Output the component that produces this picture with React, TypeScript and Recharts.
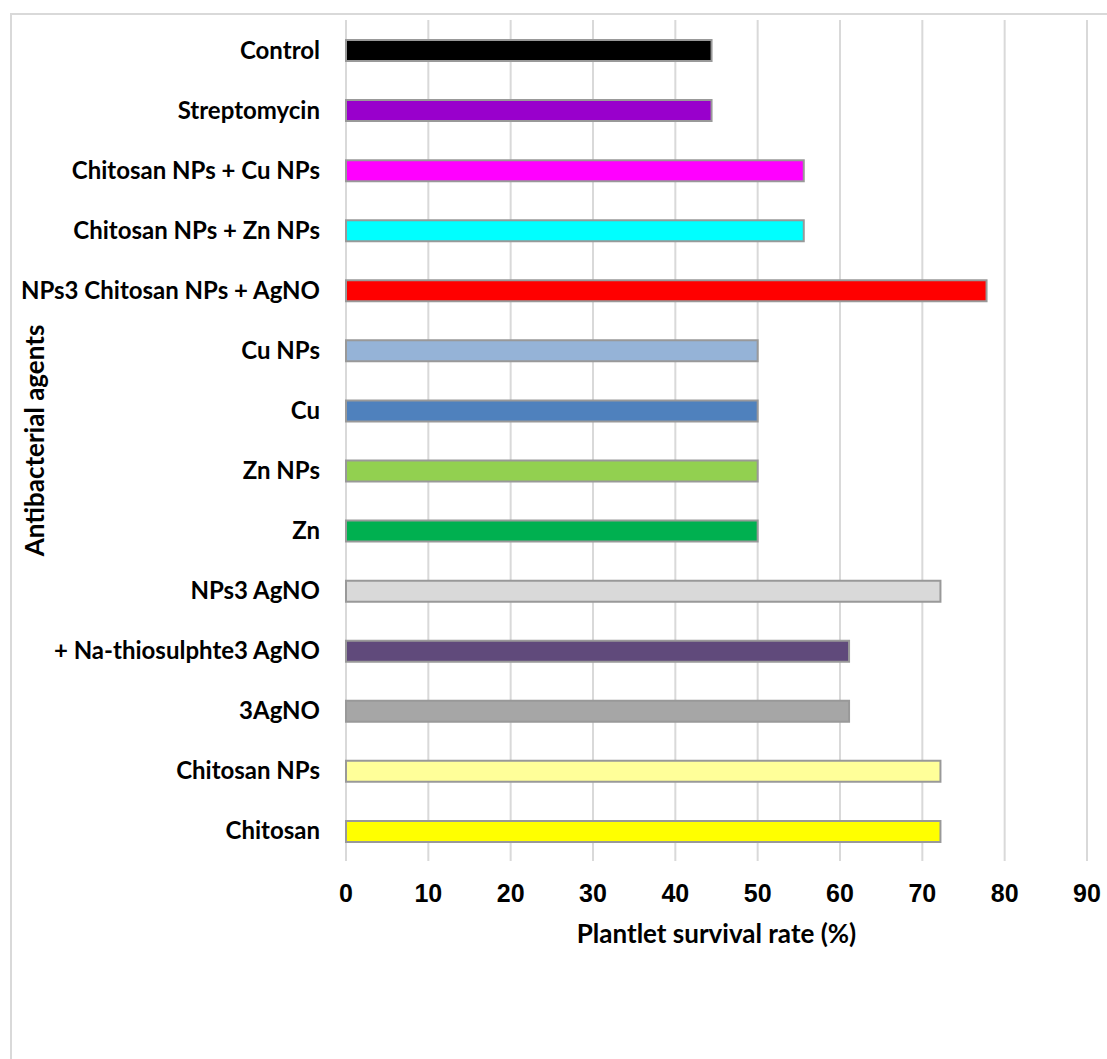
import { Bar, BarChart, CartesianGrid, Cell, Label, XAxis, YAxis } from 'recharts';

// Antibacterial treatments, listed top to bottom
const agents = [
  'Control',
  'Streptomycin',
  'Chitosan NPs + Cu NPs',
  'Chitosan NPs + Zn NPs',
  'NPs3 Chitosan NPs + AgNO',
  'Cu NPs',
  'Cu',
  'Zn NPs',
  'Zn',
  'NPs3 AgNO',
  '+ Na-thiosulphte3 AgNO',
  '3AgNO',
  'Chitosan NPs',
  'Chitosan',
];

// Plantlet survival rate (%)
const survival = [44.4, 44.4, 55.6, 55.6, 77.8, 50, 50, 50, 50, 72.2, 61.1, 61.1, 72.2, 72.2];

const barColors = [
  '#000000',
  '#9900CC',
  '#FF00FF',
  '#00FFFF',
  '#FF0000',
  '#95B3D7',
  '#4F81BD',
  '#92D050',
  '#00B050',
  '#D9D9D9',
  '#604A7B',
  '#A6A6A6',
  '#FFFF99',
  '#FFFF00',
];

const xTicks = [0, 10, 20, 30, 40, 50, 60, 70, 80, 90];

const data = agents.map((name, i) => ({ name, survival: survival[i] }));

const labelFont = 'Lato, "Open Sans", sans-serif';
const numberFont = '"Liberation Sans", Arial, sans-serif';

function YTitle({ viewBox }: any) {
  const x = viewBox.x + 24;
  const y = viewBox.y + viewBox.height / 2;
  return (
    <text
      x={x}
      y={y}
      transform={`rotate(-90 ${x} ${y})`}
      textAnchor="middle"
      dominantBaseline="central"
      fontFamily={labelFont}
      fontWeight={700}
      fontSize={26}
      fill="#000"
    >
      Antibacterial agents
    </text>
  );
}

export default function App() {
  return (
    <div
      style={{
        position: 'absolute',
        left: 0,
        top: 0,
        width: 1107,
        height: 1059,
        background: '#fff',
        overflow: 'hidden',
      }}
    >
      <div
        style={{
          position: 'absolute',
          left: 10,
          top: 13,
          right: 0,
          bottom: 0,
          borderTop: '2px solid #d9d9d9',
          borderLeft: '2px solid #d9d9d9',
        }}
      />
      <div style={{ position: 'absolute', left: 0, top: 0 }}>
        <BarChart
          width={1107}
          height={1059}
          data={data}
          layout="vertical"
          margin={{ top: 20, right: 20, left: 10, bottom: 108 }}
          barSize={21}
        >
          <CartesianGrid horizontal={false} stroke="#d9d9d9" strokeWidth={2} />
          <XAxis
            type="number"
            domain={[0, 90]}
            ticks={xTicks}
            interval={0}
            axisLine={false}
            tickLine={false}
            tickSize={0}
            tickMargin={23}
            height={90}
            tick={{ fill: '#000', fontSize: 25, fontWeight: 700, fontFamily: numberFont }}
          >
            <Label
              value="Plantlet survival rate (%)"
              position="insideBottom"
              offset={8}
              fill="#000"
              fontSize={26}
              fontWeight={700}
              fontFamily={labelFont}
            />
          </XAxis>
          <YAxis
            type="category"
            dataKey="name"
            width={336}
            axisLine={false}
            tickLine={false}
            tickSize={0}
            tickMargin={26}
            interval={0}
            tick={{ fill: '#000', fontSize: 24, fontWeight: 700, fontFamily: labelFont }}
          >
            <Label content={<YTitle />} />
          </YAxis>
          <Bar dataKey="survival" stroke="#999999" strokeWidth={2} isAnimationActive={false}>
            {data.map((d, i) => (
              <Cell key={d.name} fill={barColors[i]} />
            ))}
          </Bar>
        </BarChart>
      </div>
    </div>
  );
}
